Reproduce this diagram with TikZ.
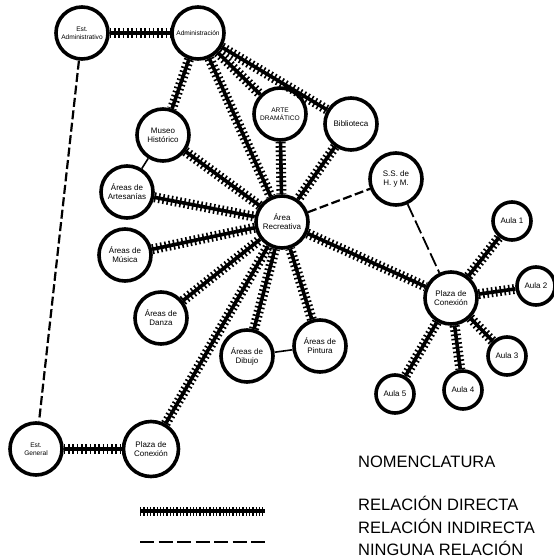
\documentclass[tikz,border=0pt]{standalone}
\usepackage{fontspec}
\setmainfont{Liberation Sans}
\usetikzlibrary{positioning}
\tikzset{
    areanode/.style={circle, draw, line width=3.6pt, fill=white, inner sep=0pt,
        minimum size=52pt, align=center, font=\fontsize{8}{9}\selectfont},
    smallareanode/.style={areanode, font=\fontsize{6.6}{7.6}\selectfont},
    aulanode/.style={areanode, minimum size=38pt},
    directrel/.style={line width=10pt, dash pattern=on 1.6pt off 2.7pt,
        preaction={draw, line width=3.6pt, solid}},
    indirectrel/.style={line width=2.2pt, dash pattern=on 9pt off 3.5pt},
    thinrel/.style={line width=1.6pt},
    legendtext/.style={anchor=west, inner sep=0pt, font=\fontsize{16.5}{18}\selectfont}
}
\begin{document}
\begin{tikzpicture}[x=1pt, y=-1pt, node distance=0.55cm]
\useasboundingbox (0,0) rectangle (554,560);
% nodos
\node[smallareanode] (estadm) at (82,33) {Est.\\Administrativo};
\node[smallareanode] (admin) at (198,33) {Administración};
\node[smallareanode] (arte) at (280,114) {ARTE\\DRAMÁTICO};
\node[areanode] (biblio) at (351,124) {Biblioteca};
\node[areanode] (museo) at (163,135) {Museo\\Histórico};
\node[areanode] (artes) at (127,192) {Áreas de\\Artesanías};
\node[areanode] (musica) at (125,255) {Áreas de\\Música};
\node[areanode] (recre) at (282,222) {Área\\Recreativa};
\node[areanode] (ss) at (396,179) {S.S. de\\H. y M.};
\node[areanode] (plazad) at (451,298) {Plaza de\\Conexión};
\node[aulanode] (aula1) at (512,221) {Aula 1};
\node[aulanode] (aula2) at (536,286) {Aula 2};
\node[aulanode] (aula3) at (507,356) {Aula 3};
\node[aulanode] (aula4) at (463,390) {Aula 4};
\node[aulanode] (aula5) at (395,394) {Aula 5};
\node[areanode] (danza) at (161,318) {Áreas de\\Danza};
\node[areanode] (dibujo) at (247,356) {Áreas de\\Dibujo};
\node[areanode] (pintura) at (320,346) {Áreas de\\Pintura};
\node[smallareanode] (estgen) at (36,449) {Est.\\General};
\node[areanode, minimum size=55pt] (plazai) at (151,449) {Plaza de\\Conexión};
% relaciones directas
\draw[directrel] (estadm) -- (admin);
\draw[directrel] (admin) -- (museo);
\draw[directrel] (admin) -- (recre);
\draw[directrel] (admin) -- (arte);
\draw[directrel] (admin) -- (biblio);
\draw[directrel] (museo) -- (recre);
\draw[directrel] (artes) -- (recre);
\draw[directrel] (musica) -- (recre);
\draw[directrel] (danza) -- (recre);
\draw[directrel] (plazai) -- (recre);
\draw[directrel] (dibujo) -- (recre);
\draw[directrel] (pintura) -- (recre);
\draw[directrel] (arte) -- (recre);
\draw[directrel] (biblio) -- (recre);
\draw[directrel] (recre) -- (plazad);
\draw[directrel] (plazad) -- (aula1);
\draw[directrel] (plazad) -- (aula2);
\draw[directrel] (plazad) -- (aula3);
\draw[directrel] (plazad) -- (aula4);
\draw[directrel] (plazad) -- (aula5);
\draw[directrel] (estgen) -- (plazai);
% relaciones indirectas
\draw[indirectrel] (estadm) -- (estgen);
\draw[indirectrel] (recre) -- (ss);
\draw[indirectrel, line width=1.8pt, dash pattern=on 14pt off 4pt] (ss) -- (plazad);
% otras
\draw[thinrel] (museo) -- (artes);
\draw[thinrel] (dibujo) -- (pintura);
% nomenclatura
\node[legendtext] (nomen) at (358,462) {NOMENCLATURA};
\node[legendtext] (ldir) at (358,503) {RELACIÓN DIRECTA};
\node[legendtext] (lind) at (358,526) {RELACIÓN INDIRECTA};
\node[legendtext] (lnin) at (358,548) {NINGUNA RELACIÓN};
\coordinate (hatA) at (140,511);
\coordinate (hatB) at (265,511);
\coordinate (dashA) at (140,542);
\coordinate (dashB) at (265,542);
\draw[directrel, line width=9pt, dash pattern=on 1.3pt off 2pt, preaction={draw, line width=2.6pt, solid}] (hatA) -- (hatB);
\draw[indirectrel, dash pattern=on 14pt off 4.5pt] (dashA) -- (dashB);
\end{tikzpicture}
\end{document}
